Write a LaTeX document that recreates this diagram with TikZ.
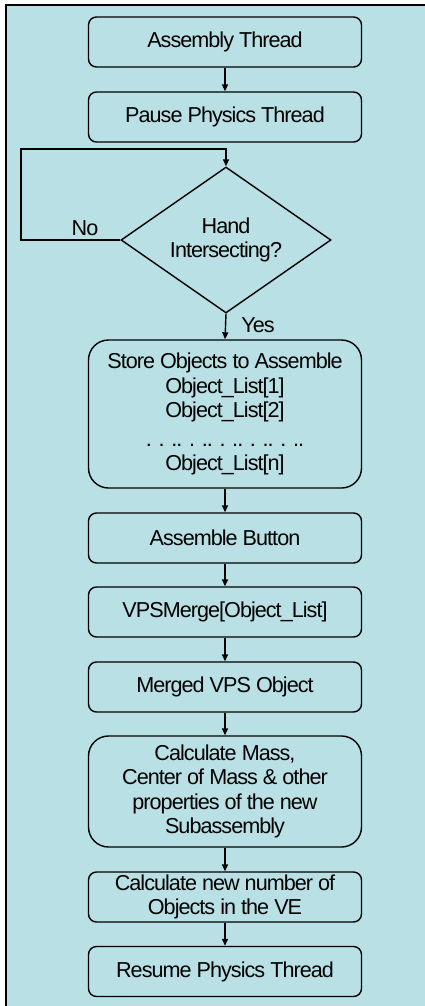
\documentclass[tikz,border=0pt]{standalone}
\usepackage{fontspec}
\setmainfont[LetterSpace=-4.5]{Liberation Sans}
\usetikzlibrary{shapes.geometric,arrows.meta}
\definecolor{bgblue}{RGB}{185,224,228}
\tikzset{
  stepbox/.style={draw=black, line width=1.4pt, rounded corners=8pt, minimum width=273pt, minimum height=50pt, inner sep=0pt, align=center, font=\fontsize{21.6}{24.5}\selectfont},
  bigbox/.style={stepbox, rounded corners=20pt},
  decision/.style={draw=black, line width=1.4pt, shape=diamond, aspect=1.44, minimum width=210pt, minimum height=146pt, inner sep=0pt, align=center, font=\fontsize{21.6}{24.5}\selectfont},
  flow/.style={draw=black, line width=1.4pt, -{Triangle[length=7pt,width=6pt]}},
  lbl/.style={inner sep=0pt, font=\fontsize{21.6}{24.5}\selectfont}
}
\begin{document}
\begin{tikzpicture}[x=1pt,y=-1pt]
\useasboundingbox (0,0) rectangle (425,1006);
\fill[white] (0,0) rectangle (425,1006);
\fill[bgblue] (6,5) rectangle (425,1006);
\draw[line width=1.5pt] (6,1006) -- (6,5) -- (425,5);

\node[stepbox] (b1) at (225,42) {Assembly Thread};
\node[stepbox] (b2) at (225,117) {Pause Physics Thread};
\node[decision] (d) at (226,240) {Hand\\Intersecting?};
\node[bigbox, minimum height=148pt] (b3) at (225,414) {Store Objects to Assemble\\Object\_List[1]\\Object\_List[2]\\[4pt]. . .. . .. . .. . .. . ..\\Object\_List[n]};
\node[stepbox] (b4) at (225,538) {Assemble Button};
\node[stepbox] (b5) at (225,612) {VPSMerge[Object\_List]};
\node[stepbox] (b6) at (225,687) {Merged VPS Object};
\node[bigbox, minimum height=111pt] (b7) at (225,791.5) {Calculate Mass,\\Center of Mass \& other\\properties of the new\\Subassembly};
\node[stepbox] (b8) at (225,897) {Calculate new number of\\Objects in the VE};
\node[stepbox] (b9) at (225,971.5) {Resume Physics Thread};

\coordinate (c1) at (21,149);
\node[lbl] (no) at (85,228) {No};
\node[lbl] (yes) at (258,325) {Yes};

\draw[flow] (b1) -- (b2);
\draw[flow] (d.west) -| (c1) -| (d.north);
\draw[flow] (d.south) -- (b3.north);
\draw[flow] (b3) -- (b4);
\draw[flow] (b4) -- (b5);
\draw[flow] (b5) -- (b6);
\draw[flow] (b6) -- (b7);
\draw[flow] (b7) -- (b8);
\draw[flow] (b8) -- (b9);
\end{tikzpicture}
\end{document}
